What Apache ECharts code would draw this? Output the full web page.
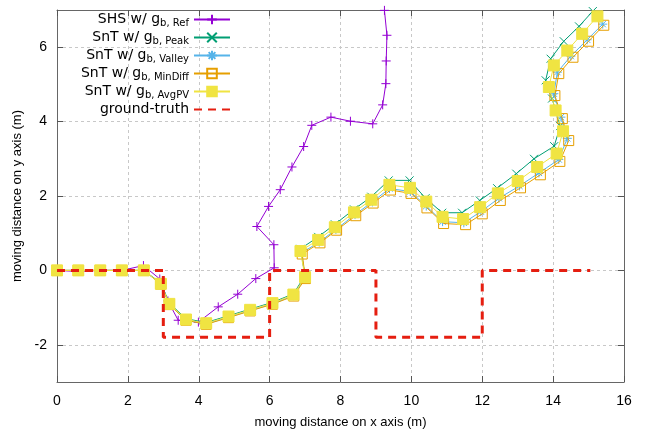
<!DOCTYPE html>
<html>
<head>
<meta charset="utf-8">
<script src="https://cdn.jsdelivr.net/npm/echarts@6/dist/echarts.min.js"></script>
<style>
html,body{margin:0;padding:0;background:#fff;}
#chart{width:645px;height:438px;}
</style>
</head>
<body>
<div id="chart"></div>
<script>
// ---------- data ----------
const xTicks = [0, 2, 4, 6, 8, 10, 12, 14, 16];
const yTicks = [-2, 0, 2, 4, 6];

const seriesNames = ['SHS w/ gb, Ref', 'SnT w/ gb, Peak', 'SnT w/ gb, Valley', 'SnT w/ gb, MinDiff', 'SnT w/ gb, AvgPV', 'ground-truth'];

const shsRef = [[0,0],[0.6,-0.03],[1.22,0],[1.83,0],[2.44,0.13],[2.9,-0.23],[3.13,-0.82],[3.42,-1.34],[3.99,-1.39],[4.55,-0.98],[5.1,-0.64],[5.61,-0.22],[6.13,0.07],[6.12,0.69],[5.64,1.18],[5.97,1.72],[6.3,2.17],[6.63,2.78],[6.96,3.33],[7.19,3.9],[7.73,4.12],[8.28,4.01],[8.91,3.94],[9.19,4.45],[9.28,5.02],[9.29,5.63],[9.31,6.32],[9.24,6.99]];

const sntPeak = [[0,0],[0.6,0],[1.22,0],[1.83,0],[2.45,0],[2.93,-0.34],[3.17,-0.88],[3.64,-1.3],[4.21,-1.4],[4.84,-1.22],[5.45,-1.04],[6.08,-0.86],[6.67,-0.63],[7.0,-0.14],[6.87,0.58],[7.37,0.9],[7.84,1.24],[8.38,1.64],[8.87,1.98],[9.36,2.42],[9.95,2.42],[10.4,1.94],[10.87,1.55],[11.43,1.55],[11.93,1.88],[12.42,2.21],[12.96,2.6],[13.46,3.0],[14.03,3.34],[14.2,3.88],[13.97,4.62],[13.79,5.11],[13.93,5.69],[14.3,6.16],[14.73,6.56],[15.12,6.97]];

const sntValley = [[0,0],[0.6,0],[1.22,0],[1.83,0],[2.45,0],[2.93,-0.37],[3.17,-0.92],[3.64,-1.34],[4.21,-1.44],[4.84,-1.26],[5.45,-1.08],[6.08,-0.9],[6.67,-0.68],[7.0,-0.2],[6.9,0.47],[7.4,0.76],[7.87,1.1],[8.41,1.5],[8.9,1.84],[9.38,2.2],[9.97,2.12],[10.42,1.73],[10.88,1.31],[11.48,1.28],[11.96,1.58],[12.47,1.94],[13.05,2.27],[13.6,2.62],[14.16,2.98],[14.4,3.55],[14.22,4.12],[14.02,4.75],[14.12,5.33],[14.5,5.76],[14.96,6.2],[15.4,6.62]];

const sntMinDiff = [[0,0],[0.6,0],[1.22,0],[1.83,0],[2.45,0],[2.93,-0.37],[3.17,-0.92],[3.64,-1.34],[4.21,-1.45],[4.84,-1.27],[5.45,-1.09],[6.08,-0.91],[6.68,-0.69],[7.01,-0.22],[6.92,0.44],[7.42,0.74],[7.89,1.08],[8.43,1.47],[8.92,1.81],[9.41,2.16],[9.99,2.07],[10.44,1.68],[10.91,1.26],[11.53,1.23],[12.0,1.52],[12.51,1.88],[13.08,2.22],[13.64,2.57],[14.19,2.93],[14.44,3.49],[14.26,4.08],[14.05,4.7],[14.16,5.29],[14.56,5.73],[15.0,6.16],[15.43,6.59]];

const sntAvgPV = [[0,0],[0.6,0],[1.22,0],[1.83,0],[2.45,0],[2.93,-0.36],[3.17,-0.9],[3.64,-1.32],[4.21,-1.42],[4.84,-1.24],[5.45,-1.06],[6.08,-0.88],[6.67,-0.65],[7.0,-0.18],[6.87,0.52],[7.37,0.82],[7.84,1.16],[8.38,1.56],[8.87,1.9],[9.38,2.3],[9.96,2.22],[10.42,1.85],[10.88,1.44],[11.46,1.38],[11.94,1.7],[12.44,2.07],[13.0,2.4],[13.55,2.78],[14.1,3.14],[14.28,3.74],[14.07,4.3],[13.88,4.93],[14.02,5.51],[14.4,5.91],[14.82,6.36],[15.25,6.83]];

const groundTruth = [[0,0],[3,0],[3,-1.8],[6,-1.8],[6,0],[9,0],[9,-1.8],[12,-1.8],[12,0],[15.05,0]];

// ---------- chart ----------
const FONT = 'DejaVu Sans';
const AXFONT = 'Liberation Sans';
const legendRich = {
  'SHS w/ gb, Ref': '{m|SHS w/ g}{s|b, Ref}',
  'SnT w/ gb, Peak': '{m|SnT w/ g}{s|b, Peak}',
  'SnT w/ gb, Valley': '{m|SnT w/ g}{s|b, Valley}',
  'SnT w/ gb, MinDiff': '{m|SnT w/ g}{s|b, MinDiff}',
  'SnT w/ gb, AvgPV': '{m|SnT w/ g}{s|b, AvgPV}',
  'ground-truth': '{m|ground-truth}'
};

const plusSym = 'path://M5,0 L5,10 M0,5 L10,5';
const crossSym = 'path://M0,0 L10,10 M10,0 L0,10';
const starSym = 'path://M5,0 L5,10 M0,5 L10,5 M1.5,1.5 L8.5,8.5 M8.5,1.5 L1.5,8.5';

function lineSeries(name, data, color, symbol, size, fill, z) {
  return {
    name: name, type: 'line', data: data, xAxisIndex: 0, yAxisIndex: 0,
    symbol: symbol, symbolSize: size, showSymbol: true,
    lineStyle: {color: color, width: 1},
    itemStyle: {color: fill, borderColor: color, borderWidth: 1},
    emphasis: {disabled: true}, animation: false, z: z, clip: true
  };
}

const tickStyle = {show: true, inside: true, length: 6, lineStyle: {color: '#555'}};
const lineAxis = {show: true, onZero: false, lineStyle: {color: '#666', width: 1}};

const chart = echarts.init(document.getElementById('chart'), null, {renderer: 'canvas'});
chart.setOption({
  animation: false,
  backgroundColor: '#fff',
  textStyle: {fontFamily: FONT},
  grid: {left: 57, right: 21, top: 10, bottom: 56, containLabel: false},
  legend: {
    orient: 'vertical', align: 'right', right: 409, top: 7,
    itemWidth: 36, itemHeight: 12, itemGap: 2,
    data: seriesNames,
    formatter: function (n) { return legendRich[n]; },
    textStyle: {
      color: '#000', fontFamily: FONT,
      rich: {
        m: {fontSize: 14, fontFamily: FONT, color: '#000', lineHeight: 15, verticalAlign: 'top'},
        s: {fontSize: 10, fontFamily: FONT, color: '#000', lineHeight: 11, padding: [6, 0, 0, 0], verticalAlign: 'top'}
      }
    }
  },
  xAxis: [{
    type: 'value', min: 0, max: 16, interval: 2, position: 'bottom',
    name: 'moving distance on x axis (m)', nameLocation: 'middle', nameGap: 34,
    nameTextStyle: {fontSize: 13, color: '#000', fontFamily: AXFONT},
    axisLine: lineAxis, axisTick: tickStyle,
    axisLabel: {fontSize: 14, color: '#000', margin: 12, fontFamily: AXFONT},
    splitLine: {show: true, lineStyle: {color: '#c8c8c8', type: [3, 3], width: 1}}
  }, {
    type: 'value', min: 0, max: 16, interval: 2, position: 'top',
    axisLine: lineAxis, axisTick: tickStyle, axisLabel: {show: false}, splitLine: {show: false}
  }],
  yAxis: [{
    type: 'value', min: -3, max: 7, position: 'left',
    name: 'moving distance on y axis (m)', nameLocation: 'middle', nameGap: 22,
    nameTextStyle: {fontSize: 13, color: '#000', fontFamily: AXFONT},
    axisLine: lineAxis,
    axisTick: Object.assign({customValues: yTicks}, tickStyle),
    axisLabel: {fontSize: 14, color: '#000', margin: 10, fontFamily: AXFONT, customValues: yTicks},
    splitLine: {show: true, lineStyle: {color: '#c8c8c8', type: [3, 3], width: 1}}
  }, {
    type: 'value', min: -3, max: 7, position: 'right',
    axisLine: lineAxis,
    axisTick: Object.assign({customValues: yTicks}, tickStyle),
    axisLabel: {show: false, customValues: yTicks}, splitLine: {show: false}
  }],
  series: [
    lineSeries(seriesNames[0], shsRef, '#9400d3', plusSym, 9, 'none', 2),
    lineSeries(seriesNames[1], sntPeak, '#009e73', crossSym, 8, 'none', 3),
    lineSeries(seriesNames[2], sntValley, '#56b4e9', starSym, 9, 'none', 4),
    lineSeries(seriesNames[3], sntMinDiff, '#e69f00', 'rect', 10, 'rgba(255,255,255,0)', 5),
    lineSeries(seriesNames[4], sntAvgPV, '#f0e442', 'rect', 11, '#f0e442', 6),
    {
      name: seriesNames[5], type: 'line', data: groundTruth, symbol: 'rect', showSymbol: false,
      lineStyle: {color: '#e51e10', width: 3, type: [8, 6]},
      itemStyle: {color: 'rgba(0,0,0,0)', borderWidth: 0}, z: 7, animation: false, emphasis: {disabled: true}
    }
  ]
});
</script>
</body>
</html>
